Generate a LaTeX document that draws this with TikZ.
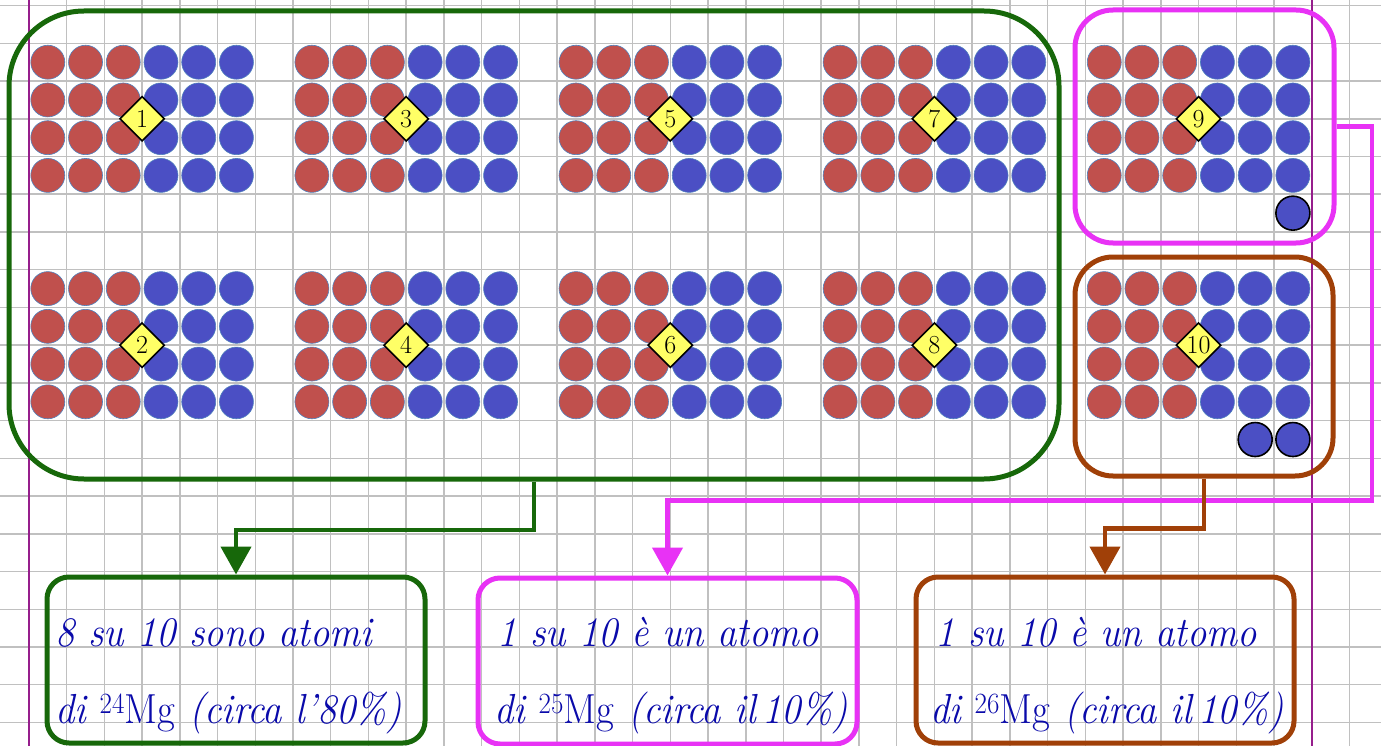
\documentclass[tikz,border=0pt]{standalone}
\usepackage{fontspec}
\usetikzlibrary{shapes.geometric,arrows.meta}
\definecolor{gridc}{RGB}{192,192,192}
\definecolor{margc}{RGB}{150,30,140}
\definecolor{redat}{RGB}{192,80,77}
\definecolor{blueat}{RGB}{75,79,196}
\definecolor{atomedge}{RGB}{79,129,189}
\definecolor{gbox}{RGB}{23,104,10}
\definecolor{mbox}{RGB}{232,50,245}
\definecolor{bbox}{RGB}{160,64,8}
\definecolor{txtc}{RGB}{10,10,170}
\definecolor{yel}{RGB}{255,255,102}
\newcommand\atomgrp[4]{%
  \foreach \r in {0,...,3}{%
    \foreach \c in {0,...,5}{%
      \pgfmathsetmacro\cx{47.8+37.73*(#1+\c)}%
      \pgfmathsetmacro\cy{24.5+37.73*(#2+\r)}%
      \ifnum\c<3
        \filldraw[atomred] (\cx,\cy) circle[radius=17];
      \else
        \filldraw[atomblue] (\cx,\cy) circle[radius=17];
      \fi
    }}%
  \node[diam] (#4) at ({28.9+37.73*(#1+3)},{5.6+37.73*(#2+2)}) {#3};%
}
\newcommand\hw[1]{\scalebox{0.92}[1]{#1}}
\begin{document}
\begin{tikzpicture}[x=1pt,y=-1pt,
  gridline/.style={draw=gridc,line width=1.5pt},
  margin/.style={draw=margc,line width=2pt},
  atomred/.style={fill=redat,draw=atomedge,line width=0.6pt},
  atomblue/.style={fill=blueat,draw=atomedge,line width=0.6pt},
  extra/.style={fill=blueat,draw=black,line width=1.6pt},
  diam/.style={diamond,aspect=1,draw=black,fill=yel,line width=1.6pt,inner sep=0pt,
    minimum width=45pt,minimum height=45pt,font=\fontsize{26}{26}\selectfont},
  bigbox/.style={rectangle,line width=5pt,inner sep=0pt},
  txtbox/.style={rectangle,rounded corners=22pt,line width=5pt,inner sep=0pt,
    minimum width=378pt,minimum height=166pt},
  conn/.style={line width=4.5pt},
  tip/.style={-{Triangle[width=30pt,length=28pt]}},
  hand/.style={anchor=base west,text=txtc,inner sep=0pt,
    font=\itshape\fontsize{42}{46}\selectfont}
]
\useasboundingbox (0,0) rectangle (1381,746);
\fill[white] (0,0) rectangle (1381,746);
% grid
\foreach \i in {0,...,35}{\draw[gridline] ({28.9+37.73*\i},0) -- ({28.9+37.73*\i},746);}
\foreach \j in {0,...,19}{\draw[gridline] (0,{5.6+37.73*\j}) -- (1381,{5.6+37.73*\j});}
\draw[margin] (28.9,0) -- (28.9,746);
\draw[margin] (1311.7,0) -- (1311.7,746);
% atoms
\atomgrp{0}{1}{1}{d1}
\atomgrp{7}{1}{3}{d3}
\atomgrp{14}{1}{5}{d5}
\atomgrp{21}{1}{7}{d7}
\atomgrp{28}{1}{9}{d9}
\atomgrp{0}{7}{2}{d2}
\atomgrp{7}{7}{4}{d4}
\atomgrp{14}{7}{6}{d6}
\atomgrp{21}{7}{8}{d8}
\atomgrp{28}{7}{10}{d10}
\filldraw[extra] ({47.8+37.73*33},{24.5+37.73*5}) circle[radius=17];
\filldraw[extra] ({47.8+37.73*32},{24.5+37.73*11}) circle[radius=17];
\filldraw[extra] ({47.8+37.73*33},{24.5+37.73*11}) circle[radius=17];
% group boxes
\node[bigbox,draw=gbox,rounded corners=75pt,minimum width=1050pt,minimum height=468pt] (G) at (534,245) {};
\node[bigbox,draw=mbox,rounded corners=38pt,minimum width=259pt,minimum height=233pt] (M) at (1204.5,126.5) {};
\node[bigbox,draw=bbox,rounded corners=38pt,minimum width=258pt,minimum height=219pt] (B) at (1204,366.5) {};
% text boxes
\node[txtbox,draw=gbox] (GT) at (236,660) {};
\node[txtbox,draw=mbox,minimum width=379pt] (MT) at (667.5,661) {};
\node[txtbox,draw=bbox] (BT) at (1105,660) {};
% connectors
\coordinate (mc) at (1372,500.7);
\draw[conn,draw=mbox,tip] (M.east) -| (mc) -| (MT.north);
\draw[conn,draw=gbox,tip] (G.south) -- ++(0,48.7) -| (GT.north);
\draw[conn,draw=bbox,tip] (B.south) -- ++(0,50) -| (BT.north);
% texts
\node[hand] (g1) at (55,646.7) {\hw{8 su 10 sono atomi}};
\node[hand] (g2) at (55,723) {\hw{di \textsuperscript{\upshape 24}{\upshape Mg} (circa l’80\%)}};
\node[hand] (m1) at (497,646.7) {\hw{1 su 10 è un atomo}};
\node[hand] (m2) at (494,723) {\hw{di \textsuperscript{\upshape 25}{\upshape Mg} (circa il\,10\%)}};
\node[hand] (b1) at (935,646.7) {\hw{1 su 10 è un atomo}};
\node[hand] (b2) at (930,723) {\hw{di \textsuperscript{\upshape 26}{\upshape Mg} (circa il\,10\%)}};
\end{tikzpicture}
\end{document}
